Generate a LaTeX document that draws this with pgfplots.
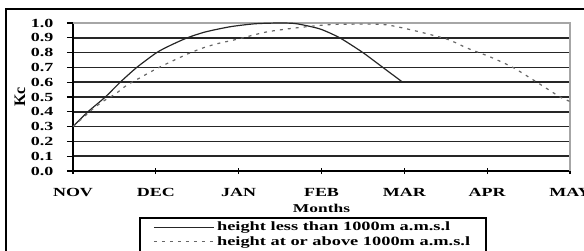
\documentclass[border=0pt]{standalone}
\usepackage{fontspec}
\setmainfont{Liberation Serif}
\newfontfamily\widefont[FakeStretch=1.45]{Liberation Serif}
\usepackage{pgfplots}
\pgfplotsset{compat=1.18}
\begin{document}
\begin{tikzpicture}
\useasboundingbox (0pt,0pt) rectangle (438pt,-187.5pt);
\draw[line width=1.5pt] (4.5pt,-6.5pt) rectangle (470pt,-220pt);
\begin{axis}[
  at={(54.75pt,-128.25pt)}, anchor=south west,
  scale only axis, width=372.75pt, height=111pt,
  xmin=0, xmax=6, ymin=0, ymax=1,
  axis lines=left,
  axis line style={-, line width=1pt, black},
  xtick={0,1,2,3,4,5,6},
  xticklabels={NOV,DEC,JAN,FEB,MAR,APR,MAY},
  ytick={0,0.1,0.2,0.3,0.4,0.5,0.6,0.7,0.8,0.9,1.0},
  /pgf/number format/assume math mode=true,
  yticklabel={\pgfmathprintnumber[fixed,fixed zerofill,precision=1]{\tick}},
  tick align=center,
  major tick length=4.5pt,
  tick style={black, line width=0.9pt},
  y tick style={xshift=-2.25pt},
  ticklabel style={font=\widefont\fontsize{9.3}{10}\selectfont\bfseries},
  xticklabel style={anchor=center, yshift=-13.5pt},
  yticklabel style={anchor=east, xshift=-9pt},
  ymajorgrids,
  major grid style={black!85, line width=1.2pt},
  xlabel={Months},
  xlabel style={at={(axis description cs:0.5,0)}, anchor=center, yshift=-27.75pt, font=\widefont\fontsize{9}{10}\selectfont\bfseries},
  clip=false,
  legend style={at={(axis description cs:0.483,-0.311)}, anchor=north,
    draw=black, line width=1.1pt, inner xsep=10pt, inner ysep=1pt,
    row sep=-1pt,
    font=\widefont\fontsize{9.5}{10.5}\selectfont\bfseries},
  legend cell align=left,
  legend image code/.code={\draw[#1, line width=0.8pt] (0pt,0pt) -- (45pt,0pt);},
]
\draw[gray!70, line width=1.1pt] (rel axis cs:0,1) -- (rel axis cs:1,1) -- (rel axis cs:1,0);
\node[rotate=90, anchor=center, font=\fontsize{12}{12}\selectfont\bfseries] at (axis description cs:-0.1067,0.5) {Kc};
\addplot[black!85, line width=0.9pt, smooth, tension=0.4] coordinates {
(0,0.30)(0.18,0.40)(0.39,0.50)(0.57,0.60)(0.77,0.70)(1.01,0.80)(1.18,0.85)(1.38,0.90)(1.6,0.94)(1.9,0.975)(2.2,0.995)(2.5,1.0)(2.7,0.995)(2.98,0.96)(3.22,0.90)(3.5,0.80)(3.74,0.70)(3.98,0.60)
};
\addlegendentry{height less than 1000m a.m.s.l}
\addplot[black!60, line width=0.9pt, dash pattern=on 2.25pt off 3.75pt, smooth, tension=0.4] coordinates {
(0,0.30)(0.12,0.36)(0.24,0.42)(0.36,0.47)(0.51,0.52)(0.65,0.58)(0.81,0.63)(0.97,0.68)(1.15,0.73)(1.38,0.79)(1.56,0.83)(1.74,0.86)(1.98,0.89)(2.34,0.94)(2.74,0.97)(3.14,0.99)(3.74,0.99)(4.11,0.95)(4.52,0.89)(4.76,0.83)(5.04,0.77)(5.31,0.70)(5.6,0.60)(5.88,0.50)(6.0,0.47)
};
\addlegendentry{height at or above 1000m a.m.s.l}
\end{axis}
\end{tikzpicture}
\end{document}
